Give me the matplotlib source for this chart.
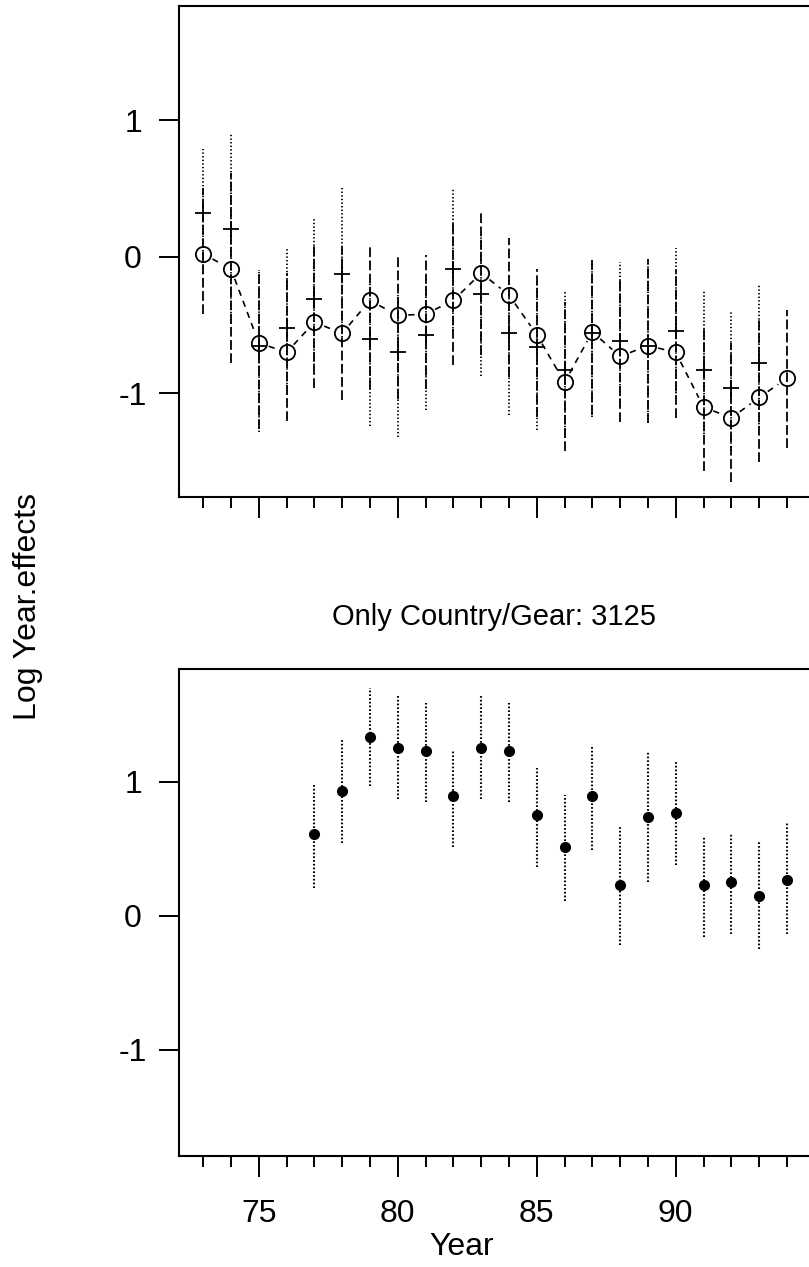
import numpy as np
import matplotlib
matplotlib.use("Agg")
import matplotlib.pyplot as plt
from matplotlib.ticker import FixedLocator, MultipleLocator

plt.rcParams['font.family'] = ['Liberation Sans', 'DejaVu Sans']
plt.rcParams['axes.unicode_minus'] = False
plt.rcParams['lines.scale_dashes'] = False

# ---- data -------------------------------------------------------------
# combined model: year effects (open circles) with intervals
years_all = list(range(73, 95))
circle_est = [0.02, -0.09, -0.63, -0.70, -0.48, -0.56, -0.32, -0.43, -0.42, -0.32, -0.12,
              -0.28, -0.57, -0.92, -0.55, -0.73, -0.65, -0.70, -1.10, -1.18, -1.03, -0.89]
circle_lo = [-0.42, -0.78, -1.26, -1.20, -0.96, -1.05, -0.97, -1.04, -0.97, -0.79, -0.72,
             -0.88, -1.17, -1.42, -1.16, -1.21, -1.22, -1.18, -1.57, -1.65, -1.50, -1.40]
circle_hi = [0.50, 0.61, -0.10, -0.12, 0.10, 0.07, 0.09, 0.00, 0.01, 0.26, 0.32,
             0.14, -0.09, -0.33, 0.00, -0.14, -0.02, -0.10, -0.51, -0.63, -0.45, -0.39]

# alternative estimates (plus signs) with intervals
plus_years = list(range(73, 94))
plus_est = [0.32, 0.20, -0.65, -0.52, -0.31, -0.13, -0.60, -0.70, -0.57, -0.09, -0.27,
            -0.56, -0.66, -0.83, -0.56, -0.62, -0.65, -0.54, -0.83, -0.96, -0.78]
plus_lo = [-0.12, -0.49, -1.28, -1.01, -0.79, -0.62, -1.24, -1.32, -1.12, -0.55, -0.87,
           -1.16, -1.27, -1.33, -1.17, -1.10, -1.22, -1.03, -1.30, -1.42, -1.25]
plus_hi = [0.79, 0.90, -0.11, 0.06, 0.28, 0.50, -0.19, -0.28, -0.14, 0.50, 0.17,
           -0.14, -0.18, -0.24, -0.01, -0.04, -0.02, 0.06, -0.24, -0.40, -0.20]

# single country/gear 3125
cg_years = list(range(77, 95))
cg_est = [0.61, 0.93, 1.33, 1.25, 1.23, 0.89, 1.25, 1.23, 0.75, 0.51, 0.89, 0.23,
          0.74, 0.77, 0.23, 0.25, 0.15, 0.27]
cg_lo = [0.21, 0.54, 0.97, 0.87, 0.85, 0.51, 0.87, 0.85, 0.36, 0.11, 0.49, -0.22,
         0.25, 0.38, -0.16, -0.14, -0.25, -0.14]
cg_hi = [0.99, 1.32, 1.70, 1.64, 1.59, 1.24, 1.64, 1.59, 1.10, 0.90, 1.27, 0.67,
         1.22, 1.16, 0.59, 0.61, 0.55, 0.69]

major_years = [75, 80, 85, 90]
y_ticks = [-1, 0, 1]
y_ticklabels = ["-1", "0", "1"]
panel_title = "Only Country/Gear: 3125"
y_title = "Log Year.effects"
x_title = "Year"

# ---- figure -----------------------------------------------------------
W, H, DPI = 809, 1267, 100
fig = plt.figure(figsize=(W / DPI, H / DPI), dpi=DPI)


def px_rect(left, top, right, bottom):
    return [left / W, 1 - bottom / H, (right - left) / W, (bottom - top) / H]


ax1 = fig.add_axes(px_rect(179, 6, 820, 497))
ax2 = fig.add_axes(px_rect(179, 669, 820, 1156))
ax1.set_ylim(-1.758, 1.834)
ax2.set_ylim(-1.793, 1.841)

for ax in (ax1, ax2):
    ax.set_xlim(72.13, 95.19)
    for s in ax.spines.values():
        s.set_linewidth(1.5)
    ax.xaxis.set_major_locator(FixedLocator(major_years))
    ax.xaxis.set_minor_locator(MultipleLocator(1))
    ax.tick_params(axis='x', which='major', length=15, width=1.4, direction='out',
                   pad=16, labelsize=23)
    ax.tick_params(axis='x', which='minor', length=8, width=1.4, direction='out')
    ax.set_yticks(y_ticks)
    ax.set_yticklabels(y_ticklabels)
    ax.tick_params(axis='y', length=14.4, width=1.4, direction='out', pad=18.7,
                   labelsize=23)
    for lab in ax.get_yticklabels():
        lab.set_horizontalalignment('center')

ax1.tick_params(axis='x', which='both', labelbottom=False)


def gapped_line(ax, x, y, gap_px, **kw):
    """Connect points with segments that stop short of each symbol."""
    pts = ax.transData.transform(np.column_stack([x, y]))
    inv = ax.transData.inverted()
    for p0, p1 in zip(pts[:-1], pts[1:]):
        d = p1 - p0
        L = np.hypot(*d)
        if L <= 2 * gap_px:
            continue
        u = d / L
        a, b = inv.transform([p0 + u * gap_px, p1 - u * gap_px])
        ax.plot([a[0], b[0]], [a[1], b[1]], **kw)


# top panel
ax1.vlines(plus_years, plus_lo, plus_hi, colors='black', linewidth=1.3,
           linestyles=[(0, (1.0, 1.6))])
ax1.vlines(years_all, circle_lo, circle_hi, colors='black', linewidth=1.3,
           linestyles=[(0, (7, 2.5))])
gapped_line(ax1, years_all, circle_est, 10.5, color='black', linewidth=1.2,
            linestyle=(0, (4.5, 4)))
ax1.plot(years_all, circle_est, 'o', mfc='none', mec='black', ms=11, mew=1.3)
ax1.plot(plus_years, plus_est, '+', color='black', ms=12, mew=1.3)

# bottom panel
ax2.vlines(cg_years, cg_lo, cg_hi, colors='black', linewidth=1.5,
           linestyles=[(0, (1.2, 1.5))])
ax2.plot(cg_years, cg_est, 'o', color='black', ms=7)

fig.text(494 / W, 1 - 625 / H, panel_title, ha='center', va='baseline', fontsize=21)
fig.text(28 / W, 1 - 720 / H, y_title, rotation=90, ha='center', va='bottom', fontsize=23)
fig.text(461.5 / W, 1 - 1232 / H, x_title, ha='center', va='top', fontsize=23)

fig.savefig('out.png', dpi=DPI)
